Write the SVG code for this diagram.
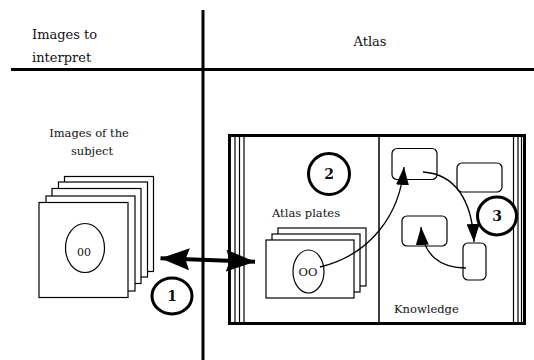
<svg xmlns="http://www.w3.org/2000/svg" width="534" height="360" viewBox="0 0 534 360">
<defs>
<style>
text{font-family:"DejaVu Serif","Liberation Serif",serif;fill:#111}
.hd{font-size:13px}
.lb{font-size:11.5px}
.num{font-size:14px;font-weight:bold;text-anchor:middle}
.sheet{fill:#fff;stroke:#000;stroke-width:1.2}
.kbox{fill:#fff;stroke:#000;stroke-width:1.2}
.ring{fill:#fff;stroke:#000;stroke-width:3}
.thin{stroke:#000;stroke-width:1.2}
.conn{fill:none;stroke:#000;stroke-width:1.3}
</style>
<marker id="ah" viewBox="0 0 18 13" refX="18" refY="6.5" markerWidth="18" markerHeight="13" markerUnits="userSpaceOnUse" orient="auto">
<path d="M0,0 L18,6.5 L0,13 Z" fill="#000"/>
</marker>
<marker id="big" viewBox="0 0 29 22" refX="29" refY="11" markerWidth="29" markerHeight="22" markerUnits="userSpaceOnUse" orient="auto-start-reverse">
<path d="M0,0 L29,11 L0,22 L4,11 Z" fill="#000"/>
</marker>
</defs>
<rect width="534" height="360" fill="#fff"/>

<g id="frame">
<line x1="203" y1="10" x2="203" y2="360" stroke="#000" stroke-width="3"/>
<line x1="11" y1="69.5" x2="534" y2="69.5" stroke="#000" stroke-width="3"/>
<text class="hd" x="32" y="39">Images to</text>
<text class="hd" x="32" y="62">interpret</text>
<text class="hd" x="370" y="46" text-anchor="middle">Atlas</text>
</g>

<g id="subject-images">
<text class="lb" x="89" y="137" text-anchor="middle">Images of the</text>
<text class="lb" x="92" y="155" text-anchor="middle">subject</text>
<rect class="sheet" x="64.5" y="176.5" width="89" height="95"/>
<rect class="sheet" x="58.5" y="182" width="89" height="95"/>
<rect class="sheet" x="52" y="188.5" width="89" height="95"/>
<rect class="sheet" x="46" y="196" width="89" height="95"/>
<rect class="sheet" x="39" y="202.5" width="89" height="95"/>
<ellipse cx="85" cy="248" rx="19.5" ry="24.5" fill="none" stroke="#000" stroke-width="1.2"/>
<text class="lb" x="84" y="256" text-anchor="middle" style="font-size:11px">00</text>
</g>

<g id="atlas-book">
<rect x="229.5" y="135.5" width="295" height="188" fill="#fff" stroke="#000" stroke-width="3"/>
<line class="thin" x1="235" y1="136" x2="235" y2="323"/>
<line class="thin" x1="239.5" y1="136" x2="239.5" y2="323"/>
<line class="thin" x1="244" y1="136" x2="244" y2="323"/>
<line class="thin" x1="513.5" y1="136" x2="513.5" y2="323"/>
<line class="thin" x1="518" y1="136" x2="518" y2="323"/>
<line class="thin" x1="521.5" y1="136" x2="521.5" y2="323"/>
<line x1="379" y1="136" x2="379" y2="323" stroke="#000" stroke-width="1.5"/>
</g>

<g id="atlas-plates">
<text class="lb" x="272" y="217">Atlas plates</text>
<rect class="sheet" x="278" y="228" width="88" height="58"/>
<rect class="sheet" x="272" y="234" width="88" height="58"/>
<rect class="sheet" x="266" y="240" width="88" height="58"/>
<ellipse cx="308.5" cy="271.5" rx="15.5" ry="21.5" fill="none" stroke="#000" stroke-width="1.2"/>
<text class="lb" x="308" y="276" text-anchor="middle">OO</text>
</g>

<g id="knowledge">
<rect id="kbox-a" class="kbox" x="392" y="148.5" width="45" height="31" rx="5"/>
<rect id="kbox-b" class="kbox" x="457" y="163" width="45" height="29" rx="5"/>
<rect id="kbox-c" class="kbox" x="402" y="216" width="45" height="30" rx="5"/>
<rect id="kbox-d" class="kbox" x="463" y="243" width="23" height="37" rx="5"/>
<text class="lb" x="394" y="313">Knowledge</text>
</g>

<g id="connectors">
<line x1="160.5" y1="258.3" x2="255" y2="261.7" stroke="#000" stroke-width="4" marker-start="url(#big)" marker-end="url(#big)"/>
<path class="conn" d="M320,267 C370,255 400,215 404,167" marker-end="url(#ah)"/>
<path class="conn" d="M423,172 C455,174 472,200 474,242" marker-end="url(#ah)"/>
<path class="conn" d="M466,268 C440,268 423,255 421,227" marker-end="url(#ah)"/>
</g>

<g id="step-1">
<ellipse class="ring" cx="172" cy="296" rx="20" ry="18"/>
<text class="num" x="172" y="301">1</text>
</g>
<g id="step-2">
<ellipse class="ring" cx="329" cy="174" rx="20.5" ry="20.5"/>
<text class="num" x="329" y="179">2</text>
</g>
<g id="step-3">
<ellipse class="ring" cx="497" cy="216" rx="19.5" ry="19"/>
<text class="num" x="497" y="221">3</text>
</g>
</svg>
